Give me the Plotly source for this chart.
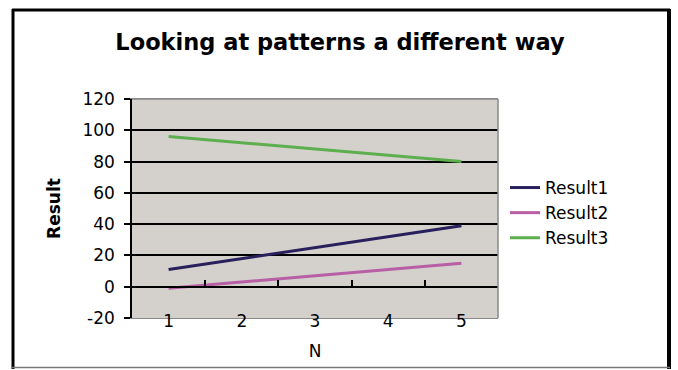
import plotly.graph_objects as go

# Values per N
n_values = [1, 2, 3, 4, 5]
result1 = [11, 18, 25, 32, 39]
result2 = [-1, 3, 7, 11, 15]
result3 = [96, 92, 88, 84, 80]
y_ticks = [-20, 0, 20, 40, 60, 80, 100, 120]

series = [
    ("Result1", result1, "#28205c"),
    ("Result2", result2, "#b85fa6"),
    ("Result3", result3, "#5cae4e"),
]

W, H = 678, 370
L, R, T, B = 132, 180, 99, 52
pw, ph = W - L - R, H - T - B

def px_x(v):
    return (v - L) / pw

def px_y(v):
    return (H - B - v) / ph

fig = go.Figure()
for name, vals, color in series:
    fig.add_trace(go.Scatter(
        x=n_values, y=vals, name=name, mode="lines",
        line=dict(color=color, width=3),
    ))

# invisible trace to hold the crossing axis with tick marks at y = 0
fig.add_trace(go.Scatter(x=[1], y=[0], xaxis="x2", showlegend=False,
                         mode="markers", marker=dict(opacity=0), hoverinfo="skip"))

font_main = "DejaVu Sans, Verdana, sans-serif"

fig.update_layout(
    width=W, height=H,
    margin=dict(l=L, r=R, t=T, b=B),
    paper_bgcolor="white",
    plot_bgcolor="#d4d0cb",
    font=dict(family=font_main, color="black", size=17),
    title=dict(
        text="<b>Looking at patterns a different way</b>",
        x=(340) / W, xanchor="center",
        y=1 - 42 / H, yanchor="middle",
        font=dict(size=22.5, family=font_main, color="black"),
    ),
    showlegend=True,
    legend=dict(
        x=px_x(505), xanchor="left",
        y=px_y(170), yanchor="top",
        bgcolor="rgba(0,0,0,0)",
        font=dict(size=17, family=font_main),
        tracegroupgap=0,
    ),
    xaxis=dict(
        range=[0.5, 5.5],
        tickvals=n_values,
        ticktext=[str(v) for v in n_values],
        ticks="",
        showgrid=False,
        zeroline=False,
        showline=True, linecolor="#8a8a8a", linewidth=1,
        mirror=True,
        ticklabelstandoff=-12,
        tickfont=dict(size=17),
        title=dict(text="N", font=dict(size=17), standoff=14),
    ),
    xaxis2=dict(
        overlaying="x", anchor="free",
        position=(0 - (-20)) / 140,
        range=[0.5, 5.5],
        tickvals=[1.5, 2.5, 3.5, 4.5, 5.5],
        ticktext=[""] * 5,
        ticks="inside", ticklen=6, tickwidth=1.5, tickcolor="black",
        showline=True, linecolor="black", linewidth=1.5,
        showgrid=False, zeroline=False,
        side="bottom",
    ),
    yaxis=dict(
        range=[-20, 120],
        tickvals=y_ticks,
        ticktext=[str(v) for v in y_ticks],
        ticks="outside", ticklen=6, tickwidth=1.5, tickcolor="black",
        ticklabelstandoff=6,
        showline=True, linecolor="black", linewidth=1.5,
        showgrid=True, gridcolor="black", gridwidth=1.5,
        zeroline=False,
        tickfont=dict(size=17),
        title=dict(text="<b>Result</b>", font=dict(size=17), standoff=17),
    ),
    shapes=[
        # plot area outline on top and right
        dict(type="line", xref="paper", yref="paper", x0=0, x1=1, y0=1, y1=1,
             line=dict(color="#8a8a8a", width=1.5)),
        dict(type="line", xref="paper", yref="paper", x0=1, x1=1, y0=0, y1=1,
             line=dict(color="#8a8a8a", width=1.5)),
        # chart frame
        dict(type="line", xref="paper", yref="paper",
             x0=px_x(13), x1=px_x(13), y0=px_y(9), y1=px_y(369),
             line=dict(color="black", width=3)),
        dict(type="line", xref="paper", yref="paper",
             x0=px_x(12), x1=px_x(670), y0=px_y(10), y1=px_y(10),
             line=dict(color="black", width=3)),
        dict(type="line", xref="paper", yref="paper",
             x0=px_x(669), x1=px_x(669), y0=px_y(9), y1=px_y(369),
             line=dict(color="black", width=4)),
        dict(type="line", xref="paper", yref="paper",
             x0=px_x(12), x1=px_x(670), y0=px_y(367.5), y1=px_y(367.5),
             line=dict(color="#777777", width=1.5)),
    ],
)

fig.write_html("out.html")
